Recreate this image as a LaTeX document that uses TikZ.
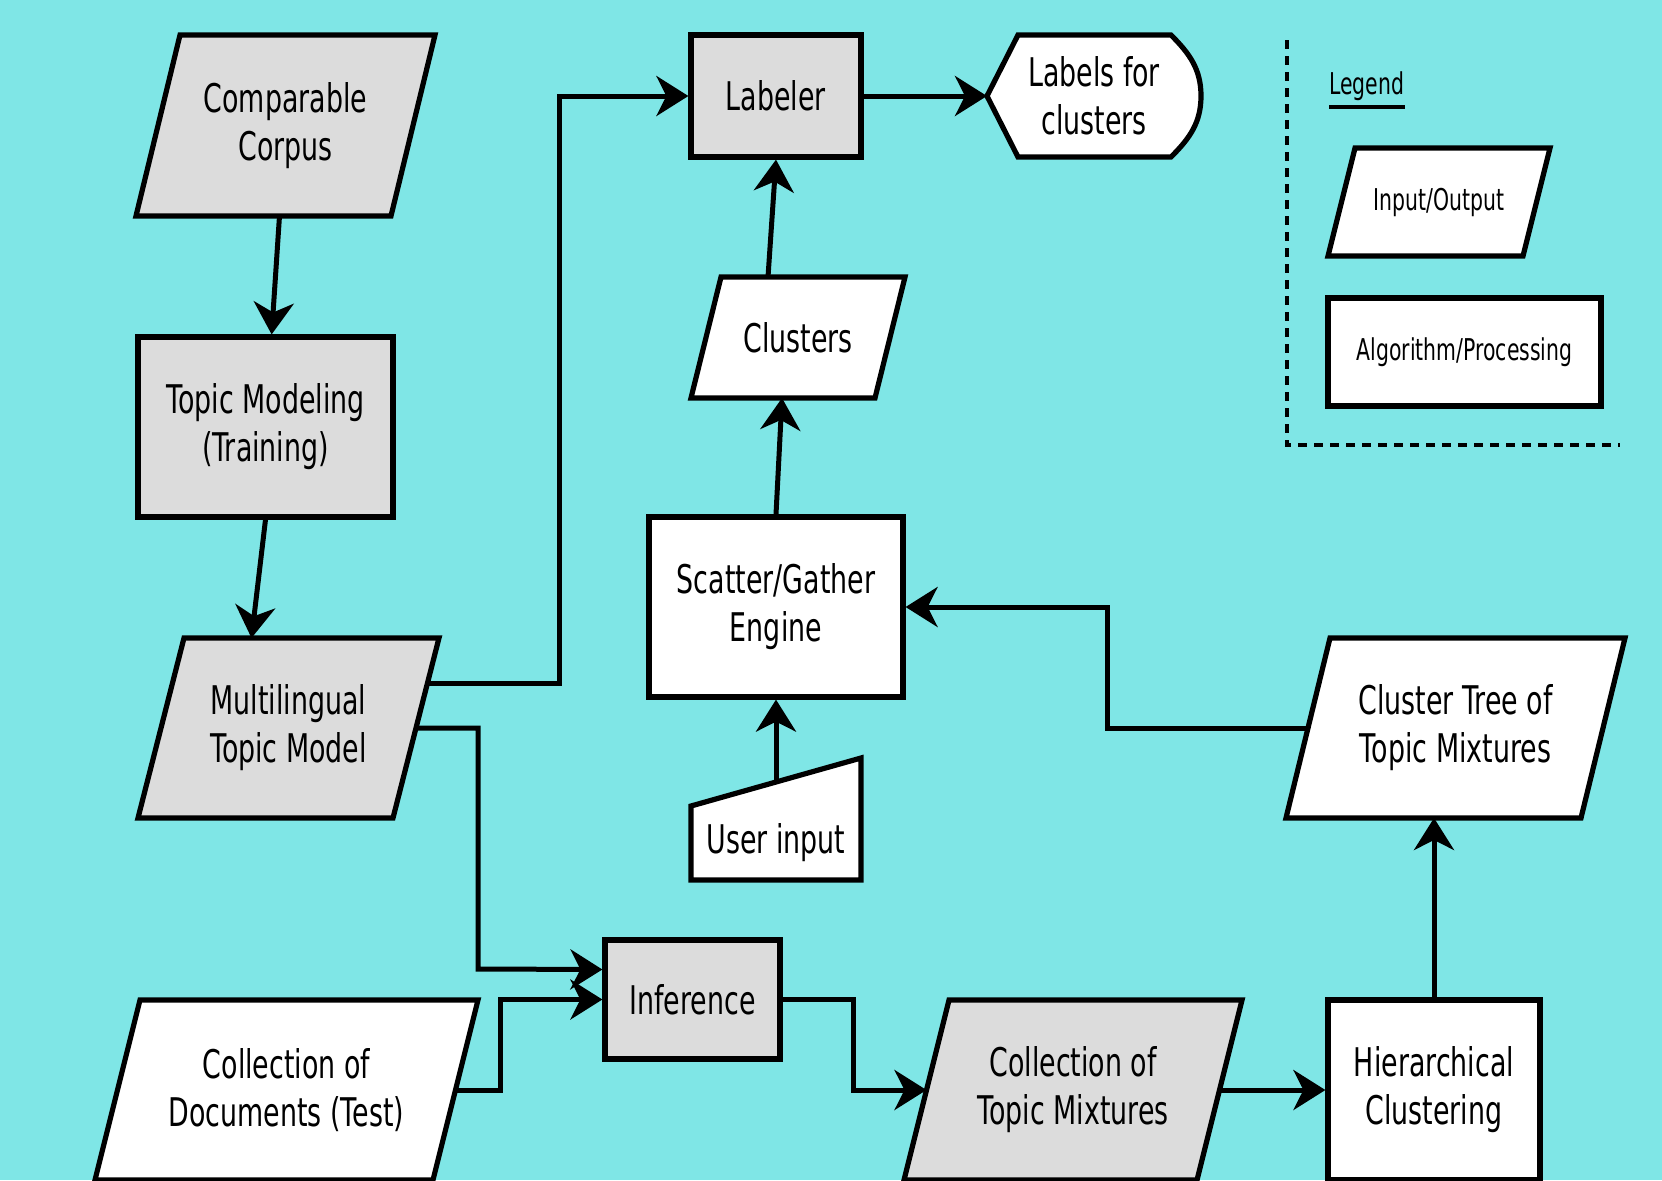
\documentclass[tikz,border=0pt]{standalone}
\usepackage{fontspec}
\setmainfont{DejaVu Sans}[FakeStretch=0.68]
\usetikzlibrary{arrows.meta,calc}
\definecolor{bgcyan}{HTML}{7FE6E6}
\definecolor{boxgrey}{HTML}{DCDCDC}
\newcommand\boxfont{\fontsize{19.75}{24}\selectfont}
\newcommand\legendfont{\fontsize{15}{18}\selectfont}
\newcommand\ioshape[3]{\draw[outline, fill=#3] (#1.south west) -- ([xshift=#2]#1.north west) -- (#1.north east) -- ([xshift=-#2]#1.south east) -- cycle;}
\pgfdeclarelayer{back}
\pgfsetlayers{back,main}
\begin{document}
\begin{tikzpicture}[x=0.5pt, y=-0.5pt,
  outline/.style={draw, line width=2.6pt, fill=white},
  box/.style={outline, align=center, font=\boxfont, inner sep=2pt},
  grey/.style={fill=boxgrey},
  proc/.style={box, rectangle},
  iobox/.style={rectangle, inner sep=0pt, outer sep=0pt, align=center, font=\boxfont},
  flow/.style={line width=2.5pt, -{Stealth[length=16pt, width=20pt, inset=5pt]}},
  legendline/.style={line width=2.3pt, dash pattern=on 4.5pt off 3.5pt}]
\useasboundingbox (0,0) rectangle (1662,1180);
\begin{pgfonlayer}{back}
\fill[bgcyan] (0,0) rectangle (1662,1180);
\end{pgfonlayer}
\node[iobox, minimum width=149.5pt, minimum height=90.5pt] (corpus) at (285.5,125.5){Comparable\\Corpus};
\node[proc, grey, minimum width=127.5pt, minimum height=90pt] (train) at (265.5,427){Topic Modeling\\(Training)};
\node[iobox, minimum width=150.5pt, minimum height=90pt] (mltm) at (288.5,728){Multilingual\\Topic Model};
\node[iobox, minimum width=191.5pt, minimum height=90pt] (docs) at (286.5,1090){Collection of\\Documents (Test)};
\node[proc, grey, minimum width=85pt, minimum height=61pt] (labeler) at (776,96){Labeler};
\node[iobox, minimum width=107pt, minimum height=61pt] (labels) at (1094,96){Labels for\\clusters};
\node[iobox, minimum width=107pt, minimum height=60.5pt] (clusters) at (798,337.5){Clusters};
\node[proc, minimum width=127pt, minimum height=90pt] (engine) at (776,607){Scatter/Gather\\Engine};
\node[iobox, minimum width=85pt, minimum height=37pt] (user) at (776,843){User input};
\node[proc, grey, minimum width=87.5pt, minimum height=59.5pt] (infer) at (692.5,999.5){Inference};
\node[iobox, minimum width=169pt, minimum height=90pt] (mixtures) at (1073,1090){Collection of\\Topic Mixtures};
\node[proc, minimum width=106pt, minimum height=90pt] (hier) at (1434,1090){Hierarchical\\Clustering};
\node[iobox, minimum width=169.5pt, minimum height=90pt] (tree) at (1455.5,728){Cluster Tree of\\Topic Mixtures};
\node[anchor=base west, inner sep=0pt, font=\legendfont] (legend) at (1329,94){Legend};
\node[iobox, font=\legendfont, minimum width=111pt, minimum height=54pt] (legio) at (1439,202){Input/Output};
\node[proc, font=\legendfont, minimum width=136.5pt, minimum height=54pt] (legproc) at (1464.5,352){Algorithm/Processing};
\begin{pgfonlayer}{back}
\ioshape{corpus}{22pt}{boxgrey}
\ioshape{mltm}{23pt}{boxgrey}
\ioshape{docs}{22.5pt}{white}
\ioshape{clusters}{15pt}{white}
\ioshape{mixtures}{22.5pt}{boxgrey}
\ioshape{tree}{22pt}{white}
\ioshape{legio}{13.5pt}{white}
\draw[outline] (labels.west) -- ([xshift=15.5pt]labels.north west) -- ([xshift=-15pt]labels.north east)
  to[out=-45,in=90] (labels.east) to[out=-90,in=45] ([xshift=-15pt]labels.south east)
  -- ([xshift=15.5pt]labels.south west) -- cycle;
\draw[outline] (user.south west) -- (user.north west) -- ([yshift=24pt]user.north east) -- (user.south east) -- cycle;
\end{pgfonlayer}
\coordinate (bend1) at (559,96);
\coordinate (bend2) at (478,969);
\coordinate (bend3) at (500,999.5);
\coordinate (bend4) at (853,999.5);
\coordinate (bend5) at (1107,607);
\coordinate (mltm-a) at ($(mltm.north east)!0.25!([xshift=-23pt]mltm.south east)$);
\coordinate (mltm-e) at ([xshift=-11.5pt]mltm.east);
\coordinate (docs-e) at ([xshift=-11.25pt]docs.east);
\coordinate (mix-w) at ([xshift=11.25pt]mixtures.west);
\coordinate (mix-e) at ([xshift=-11.25pt]mixtures.east);
\coordinate (tree-w) at ([xshift=11pt]tree.west);
\coordinate (user-top) at ([yshift=12pt]user.north);
\draw[flow] (corpus) -- (train);
\draw[flow] (train.south) -- ([xshift=-7pt]train.south |- mltm.north);
\draw[flow] (mltm-a) -| (bend1) -- (labeler);
\draw[flow] (mltm-e) -| (bend2) -- ([yshift=15pt]infer.west);
\draw[flow] (docs-e) -| (bend3) -- (infer.west);
\draw[flow] (infer.east) -- (bend4) |- (mix-w);
\draw[flow] (mix-e) -- (hier.west);
\draw[flow] (hier.north) -- (hier.north |- tree.south);
\draw[flow] (tree-w) -| (bend5) -- (engine.east);
\draw[flow] (user-top) -- (engine.south);
\draw[flow] (engine.north) -- ([xshift=-8pt]clusters.south);
\draw[flow] ([xshift=-15pt]clusters.north) -- (labeler.south);
\draw[flow] (labeler.east) -- (labels.west);
\draw[line width=2pt] ([yshift=-6.5pt]legend.base west) -- ([yshift=-6.5pt]legend.base east);
\draw[legendline] (1287,40) -- (1287,445) -- (1620,445);
\end{tikzpicture}
\end{document}
